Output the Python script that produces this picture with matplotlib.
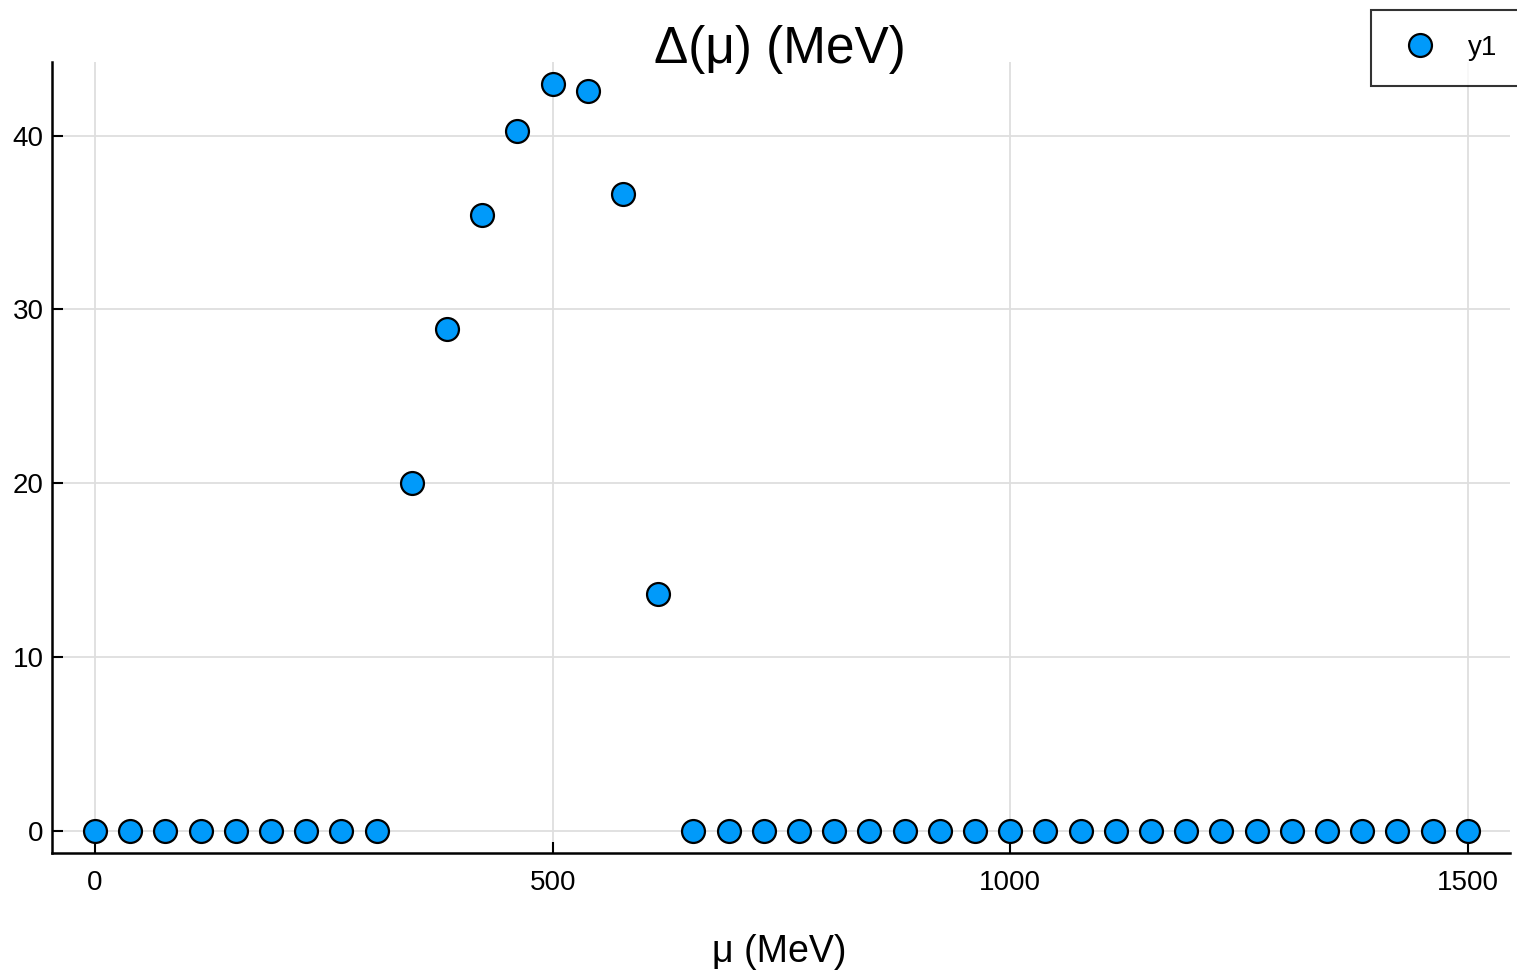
import matplotlib.pyplot as plt
import numpy as np

plt.rcParams['font.family'] = ['Liberation Sans', 'DejaVu Sans']

# mu grid (MeV) and gap values
mu = np.linspace(0, 1500, 40)
delta = [0, 0, 0, 0, 0, 0, 0, 0, 0,
         20.0, 28.85, 35.45, 40.25, 42.95, 42.55, 36.65, 13.6,
         0, 0, 0, 0, 0, 0, 0, 0, 0, 0, 0, 0, 0, 0, 0, 0, 0, 0, 0, 0, 0, 0, 0]

fig = plt.figure(figsize=(15.17, 9.74), dpi=100)
ax = fig.add_axes([52/1517, 1 - 853/974, (1510-52)/1517, (853-62)/974])

ax.plot(mu, delta, 'o', color='#009AFA', markeredgecolor='black',
        markeredgewidth=1.6, markersize=16.5, label='y1', zorder=3)

ax.set_xlim(-47, 1546)
ax.set_ylim(-1.29, 44.24)
ax.set_xticks([0, 500, 1000, 1500])
ax.set_yticks([0, 10, 20, 30, 40])
ax.grid(True, color='#dedede', linewidth=1.3)
ax.set_axisbelow(True)
for s in ['top', 'right']:
    ax.spines[s].set_visible(False)
for s in ['left', 'bottom']:
    ax.spines[s].set_linewidth(1.8)
ax.tick_params(direction='in', length=8, width=1.5, labelsize=20)
ax.tick_params(axis='x', pad=12)
ax.tick_params(axis='y', pad=6)

fig.text(0.514, 1 - 49/974, 'Δ(μ) (MeV)', ha='center', va='center', fontsize=37)
fig.text(0.514, 1 - 952/974, 'μ (MeV)', ha='center', va='center', fontsize=27)

leg = ax.legend(loc='upper left', bbox_to_anchor=((1371-52)/1458, 1 + (62-10)/791),
                fontsize=20, frameon=True, fancybox=False, borderpad=0.9,
                handletextpad=0.9, borderaxespad=0, handlelength=1.7)
leg.get_frame().set_edgecolor('black')
leg.get_frame().set_linewidth(1.5)

fig.savefig('out.png', dpi=100)
